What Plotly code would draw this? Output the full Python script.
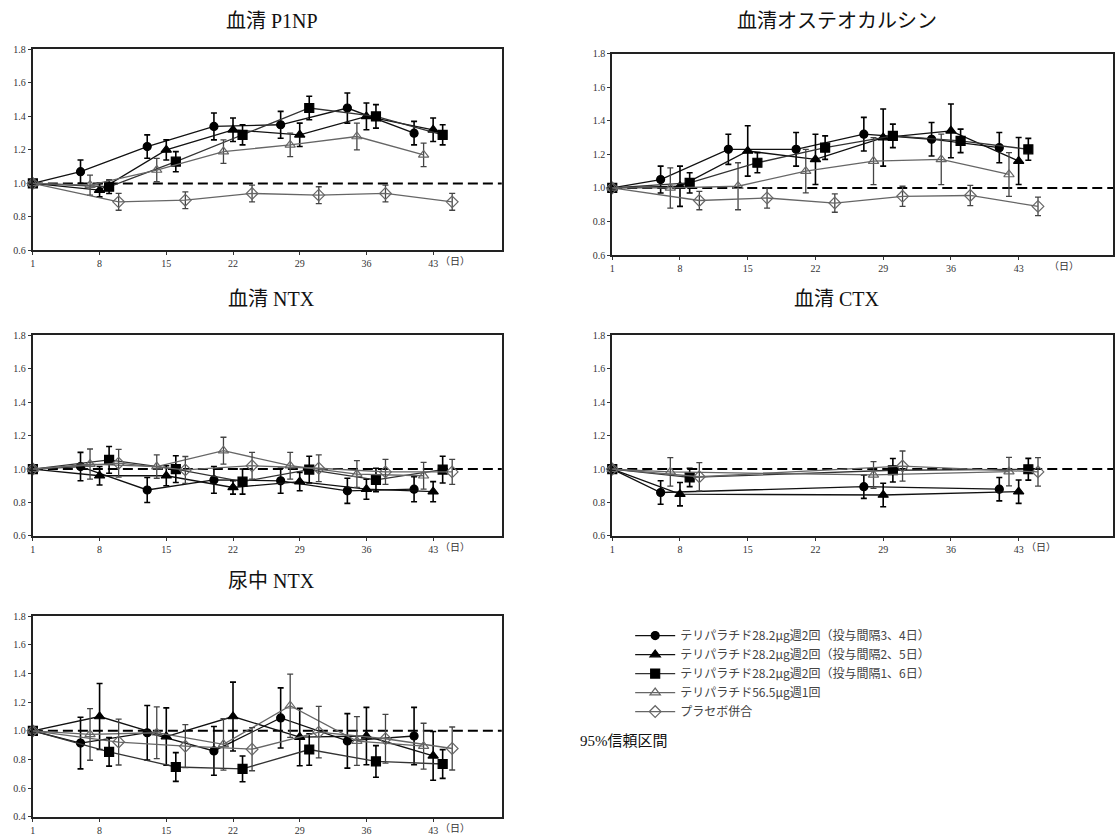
import plotly.graph_objects as go

# ---------------- data ----------------
SERIES_NAMES = [
    "テリパラチド28.2μg週2回（投与間隔3、4日）",
    "テリパラチド28.2μg週2回（投与間隔2、5日）",
    "テリパラチド28.2μg週2回（投与間隔1、6日）",
    "テリパラチド56.5μg週1回",
    "プラセボ併合",
]
X_TICKS = [1, 8, 15, 22, 29, 36, 43]

# study days per series (weekly sampling, shifted per group)
DAYS_S1 = [1, 6, 13, 20, 27, 34, 41]
DAYS_S2 = [1, 8, 15, 22, 29, 36, 43]
DAYS_S3 = [1, 9, 16, 23, 30, 37, 44]
DAYS_S4 = [1, 7, 14, 21, 28, 35, 42]
DAYS_S5 = [1, 10, 17, 24, 31, 38, 45]
# serum CTX sampled less often
CTX_DAYS_S1 = [1, 6, 27, 41]
CTX_DAYS_S2 = [1, 8, 29, 43]
CTX_DAYS_S3 = [1, 9, 30, 44]
CTX_DAYS_S4 = [1, 7, 28, 42]
CTX_DAYS_S5 = [1, 10, 31, 45]

# serum P1NP (ratio to baseline) and 95% CI half-widths
P1NP_S1 = [1.0, 1.07, 1.22, 1.34, 1.35, 1.45, 1.30]
P1NP_S1_CI = [None, 0.07, 0.07, 0.08, 0.08, 0.09, 0.07]
P1NP_S2 = [1.0, 0.96, 1.20, 1.32, 1.29, 1.40, 1.32]
P1NP_S2_CI = [None, 0.04, 0.06, 0.07, 0.07, 0.08, 0.07]
P1NP_S3 = [1.0, 0.98, 1.13, 1.29, 1.45, 1.40, 1.29]
P1NP_S3_CI = [None, 0.04, 0.06, 0.06, 0.07, 0.07, 0.06]
P1NP_S4 = [1.0, 0.99, 1.08, 1.19, 1.23, 1.28, 1.17]
P1NP_S4_CI = [None, 0.06, 0.07, 0.07, 0.07, 0.08, 0.07]
P1NP_S5 = [1.0, 0.89, 0.90, 0.94, 0.93, 0.94, 0.89]
P1NP_S5_CI = [None, 0.05, 0.05, 0.05, 0.05, 0.05, 0.05]

# serum osteocalcin
OC_S1 = [1.0, 1.05, 1.23, 1.23, 1.32, 1.29, 1.24]
OC_S1_CI = [None, 0.08, 0.09, 0.10, 0.10, 0.10, 0.09]
OC_S2 = [1.0, 1.01, 1.22, 1.17, 1.30, 1.34, 1.16]
OC_S2_CI = [None, 0.12, 0.15, 0.15, 0.17, 0.16, 0.14]
OC_S3 = [1.0, 1.03, 1.15, 1.24, 1.31, 1.28, 1.23]
OC_S3_CI = [None, 0.06, 0.06, 0.07, 0.07, 0.07, 0.065]
OC_S4 = [1.0, 1.00, 1.01, 1.10, 1.16, 1.17, 1.08]
OC_S4_CI = [None, 0.12, 0.14, 0.13, 0.14, 0.15, 0.13]
OC_S5 = [1.0, 0.925, 0.94, 0.91, 0.95, 0.955, 0.89]
OC_S5_CI = [None, 0.055, 0.06, 0.055, 0.06, 0.06, 0.055]

# serum NTX
SNTX_S1 = [1.0, 1.015, 0.875, 0.935, 0.93, 0.87, 0.88]
SNTX_S1_CI = [None, 0.085, 0.075, 0.08, 0.075, 0.075, 0.075]
SNTX_S2 = [1.0, 0.96, 0.96, 0.89, 0.925, 0.88, 0.865]
SNTX_S2_CI = [None, 0.055, 0.06, 0.04, 0.055, 0.06, 0.06]
SNTX_S3 = [1.0, 1.055, 1.0, 0.925, 0.997, 0.935, 0.997]
SNTX_S3_CI = [None, 0.08, 0.08, 0.075, 0.08, 0.07, 0.08]
SNTX_S4 = [1.0, 1.03, 1.015, 1.11, 1.02, 0.97, 0.96]
SNTX_S4_CI = [None, 0.09, 0.07, 0.08, 0.08, 0.08, 0.08]
SNTX_S5 = [1.0, 1.035, 0.995, 1.02, 1.005, 0.983, 0.983]
SNTX_S5_CI = [None, 0.083, 0.08, 0.08, 0.08, 0.075, 0.075]

# serum CTX
CTX_S1 = [1.0, 0.86, 0.895, 0.88]
CTX_S1_CI = [None, 0.07, 0.07, 0.07]
CTX_S2 = [1.0, 0.85, 0.845, 0.865]
CTX_S2_CI = [None, 0.07, 0.07, 0.07]
CTX_S3 = [1.0, 0.95, 0.993, 0.999]
CTX_S3_CI = [None, 0.055, 0.07, 0.065]
CTX_S4 = [1.0, 0.983, 0.965, 0.985]
CTX_S4_CI = [None, 0.085, 0.08, 0.085]
CTX_S5 = [1.0, 0.954, 1.018, 0.983]
CTX_S5_CI = [None, 0.085, 0.09, 0.085]

# urinary NTX
UNTX_S1 = [1.0, 0.915, 0.987, 0.86, 1.09, 0.93, 0.964]
UNTX_S1_CI = [None, 0.18, 0.19, 0.17, 0.21, 0.19, 0.20]
UNTX_S2 = [1.0, 1.10, 0.96, 1.10, 0.957, 0.964, 0.826]
UNTX_S2_CI = [None, 0.23, 0.20, 0.24, 0.20, 0.20, 0.17]
UNTX_S3 = [1.0, 0.854, 0.748, 0.735, 0.87, 0.787, 0.769]
UNTX_S3_CI = [None, 0.10, 0.10, 0.09, 0.11, 0.11, 0.10]
UNTX_S4 = [1.0, 0.975, 0.987, 0.906, 1.175, 0.929, 0.893]
UNTX_S4_CI = [None, 0.18, 0.18, 0.18, 0.22, 0.17, 0.16]
UNTX_S5 = [1.0, 0.922, 0.893, 0.872, 0.991, 0.945, 0.877]
UNTX_S5_CI = [None, 0.16, 0.15, 0.15, 0.18, 0.17, 0.15]

PANEL_TITLES = ["血清 P1NP", "血清オステオカルシン", "血清 NTX", "血清 CTX", "尿中 NTX"]

# ---------------- styles ----------------
STYLES = [
    dict(symbol="circle", size=8, color="#000", line="#111", err="#000", ew=1.6),
    dict(symbol="triangle-up", size=9, color="#000", line="#111", err="#000", ew=1.6),
    dict(symbol="square", size=9, color="#000", line="#333", err="#000", ew=1.6),
    dict(symbol="triangle-up-open", size=9, color="#666", line="#666", err="#444", ew=1.3),
    dict(symbol="diamond-open", size=9, color="#666", line="#666", err="#444", ew=1.3),
]

panels = [
    ([DAYS_S1, DAYS_S2, DAYS_S3, DAYS_S4, DAYS_S5],
     [P1NP_S1, P1NP_S2, P1NP_S3, P1NP_S4, P1NP_S5],
     [P1NP_S1_CI, P1NP_S2_CI, P1NP_S3_CI, P1NP_S4_CI, P1NP_S5_CI]),
    ([DAYS_S1, DAYS_S2, DAYS_S3, DAYS_S4, DAYS_S5],
     [OC_S1, OC_S2, OC_S3, OC_S4, OC_S5],
     [OC_S1_CI, OC_S2_CI, OC_S3_CI, OC_S4_CI, OC_S5_CI]),
    ([DAYS_S1, DAYS_S2, DAYS_S3, DAYS_S4, DAYS_S5],
     [SNTX_S1, SNTX_S2, SNTX_S3, SNTX_S4, SNTX_S5],
     [SNTX_S1_CI, SNTX_S2_CI, SNTX_S3_CI, SNTX_S4_CI, SNTX_S5_CI]),
    ([CTX_DAYS_S1, CTX_DAYS_S2, CTX_DAYS_S3, CTX_DAYS_S4, CTX_DAYS_S5],
     [CTX_S1, CTX_S2, CTX_S3, CTX_S4, CTX_S5],
     [CTX_S1_CI, CTX_S2_CI, CTX_S3_CI, CTX_S4_CI, CTX_S5_CI]),
    ([DAYS_S1, DAYS_S2, DAYS_S3, DAYS_S4, DAYS_S5],
     [UNTX_S1, UNTX_S2, UNTX_S3, UNTX_S4, UNTX_S5],
     [UNTX_S1_CI, UNTX_S2_CI, UNTX_S3_CI, UNTX_S4_CI, UNTX_S5_CI]),
]

W, H = 1115, 837
# pixel boxes (left, right, top, bottom)
BOXES = [
    (30, 501, 44, 248),
    (612, 1115, 48.3, 252.7),
    (30, 501, 334, 537.7),
    (612, 1115, 334, 537.7),
    (30, 501, 619, 822.7),
]
X_RANGES = [[1, 50.2], [1, 52.75], [1, 50.2], [1, 52.75], [1, 50.2]]
Y_RANGES = [[0.6, 1.8]] * 4 + [[0.4, 1.8]]
DAY_LABEL_X = [45.3, 47.7, 45.3, 45.3, 45.3]
TITLE_X = [270, 838, 270, 838, 270]
TITLE_Y = [15, 15, 297, 297, 583]

fig = go.Figure()
serif = "Liberation Serif, Times New Roman, Noto Sans CJK JP"
tickfont = dict(family=serif, size=10, color="#333")

layout = dict(
    width=W, height=H, autosize=False,
    margin=dict(l=0, r=0, t=0, b=0),
    paper_bgcolor="white", plot_bgcolor="white",
    showlegend=True,
)
shapes, annotations = [], []

for p, (days_list, vals_list, ci_list) in enumerate(panels):
    k = "" if p == 0 else str(p + 1)
    xa, ya = "x" + k, "y" + k
    l, r, t, b = BOXES[p]
    yr = Y_RANGES[p]
    step = 0.2
    n = int(round((yr[1] - yr[0]) / step))
    yt = [round(yr[0] + i * step, 1) for i in range(n + 1)]
    layout["xaxis" + k] = dict(
        domain=[l / W, min(r / W, 1.0)], anchor=ya, range=X_RANGES[p],
        tickvals=X_TICKS, ticks="outside", ticklen=3, tickwidth=1, tickcolor="#333",
        showline=True, mirror=True, linecolor="#222", linewidth=2,
        showgrid=False, zeroline=False, tickfont=tickfont, fixedrange=True,
    )
    layout["yaxis" + k] = dict(
        domain=[1 - b / H, 1 - t / H], anchor=xa, range=yr,
        tickvals=yt, tickformat=".1f", ticks="outside", ticklen=3, tickwidth=1,
        tickcolor="#333", showline=True, mirror=True, linecolor="#222", linewidth=2,
        showgrid=False, zeroline=False, tickfont=tickfont, fixedrange=True,
    )
    # reference line at 1.0
    shapes.append(dict(type="line", xref=xa + " domain", yref=ya, x0=0, x1=1, y0=1.0, y1=1.0,
                       line=dict(color="#000", width=2, dash="10px,5px"), layer="below"))
    for s, (d, v, c) in enumerate(zip(days_list, vals_list, ci_list)):
        st = STYLES[s]
        fig.add_trace(go.Scatter(
            x=d, y=v, xaxis=xa, yaxis=ya, mode="lines+markers",
            name=SERIES_NAMES[s], legendgroup=str(s), showlegend=(p == 0),
            line=dict(color=st["line"], width=1.3),
            marker=dict(symbol=st["symbol"], size=st["size"], color=st["color"],
                        line=dict(color=st["color"], width=1.2)),
            error_y=dict(type="data", array=c, symmetric=True, color=st["err"],
                         thickness=st["ew"], width=3),
            cliponaxis=False,
        ))
    annotations.append(dict(text=PANEL_TITLES[p], xref="paper", yref="paper",
                            x=TITLE_X[p] / W, y=1 - TITLE_Y[p] / H, xanchor="center", yanchor="middle",
                            showarrow=False, font=dict(family=serif, size=20, color="#111")))
    annotations.append(dict(text="（日）", xref=xa, yref=ya + " domain", x=DAY_LABEL_X[p], y=0,
                            xanchor="center", yanchor="top", yshift=-4, showarrow=False,
                            font=dict(family=serif, size=10, color="#333")))

annotations.append(dict(text="95%信頼区間", xref="paper", yref="paper", x=578 / W, y=1 - 746 / H,
                        xanchor="left", yanchor="middle", showarrow=False,
                        font=dict(family=serif, size=15, color="#111")))

layout["legend"] = dict(
    x=630 / W, y=1 - 624 / H, xanchor="left", yanchor="top",
    font=dict(family="Noto Sans CJK JP", size=12, color="#444"),
    bgcolor="rgba(0,0,0,0)", tracegroupgap=0, itemwidth=40,
)
layout["shapes"] = shapes
layout["annotations"] = annotations
fig.update_layout(**layout)
fig.write_html("out.html")
